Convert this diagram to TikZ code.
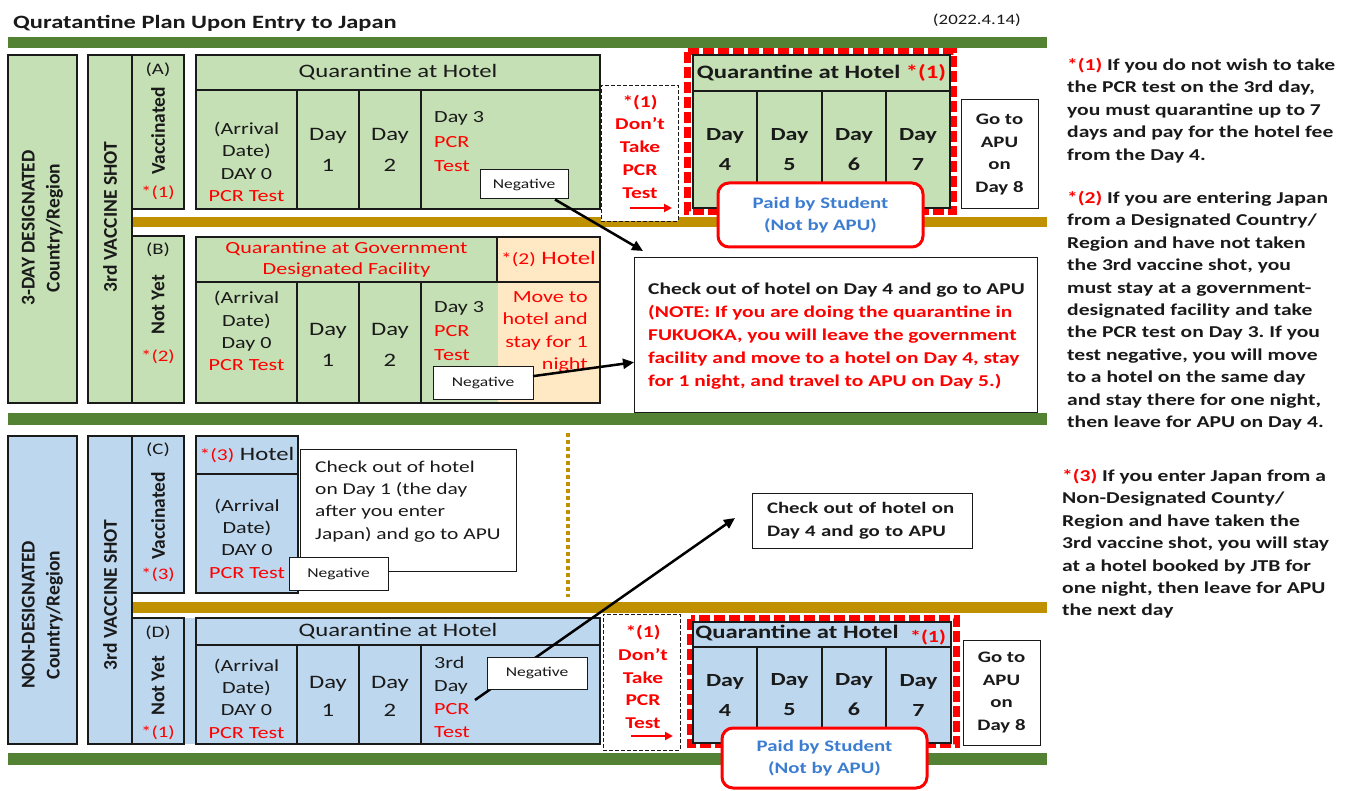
\documentclass[tikz,border=0pt]{standalone}
\usepackage{fontspec}
\setmainfont[FakeStretch=1.3]{Carlito}
\newfontfamily\plainfont{Carlito}
\usetikzlibrary{arrows.meta}
\definecolor{gfill}{HTML}{C5E0B4}
\definecolor{bfill}{HTML}{BDD7EE}
\definecolor{ofill}{HTML}{FFE8C4}
\definecolor{greenbar}{HTML}{548235}
\definecolor{goldbar}{HTML}{BF9000}
\definecolor{redx}{HTML}{FF0000}
\definecolor{bluex}{HTML}{3C7DD0}
\definecolor{ink}{HTML}{1A1A1A}
\newcommand\fs[2]{\fontsize{#1}{#2}\selectfont}
\newcommand\rd[1]{\textcolor{redx}{#1}}
\newcommand\rbox[7][]{\node[#1, minimum width={#5-#3}, minimum height={#6-#4}, inner sep=0pt, outer sep=0pt] (#2) at ({(#3+#5)/2},{(#4+#6)/2}) {#7};}
\frenchspacing
\tikzset{
 colg/.style={draw=ink, line width=1.2pt, fill=gfill},
 colb/.style={draw=ink, line width=1.2pt, fill=bfill},
 cellg/.style={draw=ink, line width=1.5pt, fill=gfill, align=center, text=ink},
 cellb/.style={draw=ink, line width=1.5pt, fill=bfill, align=center, text=ink},
 cello/.style={draw=ink, line width=1.5pt, fill=ofill, align=center},
 cellr/.style={draw=ink, line width=1.8pt, fill=gfill, align=center, text=ink, font=\bfseries\fs{18.5}{30}},
 cellrb/.style={draw=ink, line width=1.8pt, fill=bfill, align=center, text=ink, font=\bfseries\fs{18.5}{30}},
 tag/.style={draw=ink, line width=1pt, fill=white, font=\fs{13.5}{16}, text=ink},
 plain/.style={draw=ink, line width=1pt, fill=white, text=ink},
 gobox/.style={draw=ink, line width=1pt, fill=white, text=ink, align=center, font=\bfseries\fs{16}{22.5}},
 dbox/.style={draw=ink, line width=0.9pt, dash pattern=on 4pt off 2pt, fill=white},
 rframe/.style={draw=redx, line width=7pt, dash pattern=on 11pt off 4pt},
 paid/.style={draw=redx, line width=3pt, fill=white, rounded corners=11pt, align=center, text=bluex, font=\bfseries\fs{16}{22}},
 rot/.style={rotate=90, align=center, inner sep=0pt, text=ink, font=\plainfont\bfseries\fs{19.5}{25}},
 lab/.style={inner sep=0pt, text=ink, font=\fs{16}{20}},
 arrt/.style={align=center, inner sep=0pt, text=ink, font=\fs{17}{22.3}},
 dayt/.style={align=center, inner sep=0pt, text=ink, font=\fs{19}{31}},
 d3t/.style={anchor=west, align=left, inner sep=0pt, text=ink, font=\fs{17}{24.5}},
 dont/.style={align=center, inner sep=0pt, text=redx, font=\bfseries\fs{16.5}{22.75}},
 note/.style={anchor=north west, align=left, inner sep=0pt, text=ink, font=\bfseries\fs{16.6}{22.4}},
 arr/.style={draw=black, line width=2.5pt, -{Triangle[length=11pt,width=10pt]}},
 rarr/.style={draw=redx, line width=2.5pt, -{Triangle[length=8pt,width=8pt]}},
}
\begin{document}
\begin{tikzpicture}[x=1pt,y=-1pt]
\useasboundingbox (0,0) rectangle (1349,791);
\fill[white] (0,0) rectangle (1349,791);
% title
\node[anchor=west, inner sep=0pt, text=ink, font=\bfseries\fs{18.8}{22}] (title) at (13,23) {Quratantine Plan Upon Entry to Japan};
\node[anchor=east, inner sep=0pt, text=ink, font=\fs{14.5}{17}] (date) at (1021,20) {(2022.4.14)};
% bars
\fill[greenbar] (8,37) rectangle (1047,48);
\fill[goldbar] (132,217) rectangle (1047,227);
\fill[greenbar] (8,413) rectangle (1047,425);
\fill[goldbar] (132,602) rectangle (1047,613);
\fill[greenbar] (8,753) rectangle (1047,765);
% ===== Section 1 =====
\rbox[colg]{sA1}{8}{55}{77}{403}{}
\node[rot] (sA1t) at (42.5,228) {3-DAY DESIGNATED\\Country/Region};
\rbox[colg]{sA2}{88}{55}{132}{403}{}
\node[rot] (sA2t) at (110,217) {3rd VACCINE SHOT};
\rbox[colg]{rA}{132}{55}{184}{209}{}
\node[lab] (rAa) at (158,70) {(A)};
\node[rot] (rAv) at (158,131) {Vaccinated};
\node[lab, text=redx] (rAn) at (158,193) {*(1)};
\rbox[colg]{rB}{132}{236}{184}{403}{}
\node[lab] (rBa) at (158,250) {(B)};
\node[rot] (rBv) at (158,305) {Not Yet};
\node[lab, text=redx] (rBn) at (158,357) {*(2)};
% Row A table
\rbox[cellg, font=\fs{19}{23}]{aH}{196}{55}{600}{90}{Quarantine at Hotel}
\rbox[cellg]{a0}{196}{90}{297}{209}{}
\rbox[cellg]{a1}{297}{90}{359}{209}{}
\rbox[cellg]{a2}{359}{90}{421}{209}{}
\rbox[cellg]{a3}{421}{90}{600}{209}{}
\node[arrt] (a0t) at (246.5,162) {(Arrival\\Date)\\DAY 0\\\rd{PCR Test}};
\node[dayt] (a1t) at (328,150) {Day\\1};
\node[dayt] (a2t) at (390,150) {Day\\2};
\node[d3t] (a3t) at (434,142) {Day 3\\\rd{PCR}\\\rd{Test}};
% dashed box A
\rbox[dbox]{xA}{601}{85}{678}{221}{}
\node[dont] (xAt) at (640,146.5) {*(1)\\Don't\\Take\\PCR\\Test};
\coordinate (xAa1) at (630,208);
\coordinate (xAa2) at (672,208);
\draw[rarr] (xAa1) -- (xAa2);
% red frame A
\draw[rframe] (687,52) rectangle (953.5,211.5);
\rbox[cellr, font=\bfseries\fs{19}{23}]{fAH}{693}{55}{950}{91}{Quarantine at Hotel \rd{*(1)}}
\rbox[cellr]{fA4}{693}{91}{757}{208}{Day\\4}
\rbox[cellr]{fA5}{757}{91}{822}{208}{Day\\5}
\rbox[cellr]{fA6}{822}{91}{886}{208}{Day\\6}
\rbox[cellr]{fA7}{886}{91}{950}{208}{Day\\7}
\rbox[paid]{pA}{718}{183}{923}{247}{Paid by Student\\(Not by APU)}
\rbox[gobox]{gA}{961}{100}{1038}{209}{Go to\\APU\\on\\Day 8}
% Row B table
\rbox[cellg, font=\fs{17}{20.5}, text=redx]{bH}{196}{237}{497}{282}{Quarantine at Government\\Designated Facility}
\rbox[cello, font=\fs{19}{23}, text=redx]{bH2}{497}{237}{600}{282}{{\fs{16.5}{20}*(2)} Hotel}
\rbox[cellg]{b0}{196}{282}{297}{403}{}
\rbox[cellg]{b1}{297}{282}{359}{403}{}
\rbox[cellg]{b2}{359}{282}{421}{403}{}
\rbox[cellg]{b3}{421}{282}{600}{403}{}
\fill[ofill] (497.5,282.8) rectangle (599.2,402.2);
\node[arrt] (b0t) at (246.5,331) {(Arrival\\Date)\\Day 0\\\rd{PCR Test}};
\node[dayt] (b1t) at (328,344.5) {Day\\1};
\node[dayt] (b2t) at (390,344.5) {Day\\2};
\node[d3t, font=\fs{17}{24}] (b3t) at (434,331) {Day 3\\\rd{PCR}\\\rd{Test}};
\node[anchor=east, align=right, inner sep=0pt, text=redx, font=\fs{17}{22.3}] (b4t) at (588,332) {Move to\\hotel and\\stay for 1\\night};
% check out B
\rbox[plain]{cB}{634}{258}{1037}{412}{}
\node[anchor=west, align=left, inner sep=0pt, text=ink, font=\bfseries\fs{16.5}{23}] (cBt) at (648,336.5) {Check out of hotel on Day 4 and go to APU\\\rd{(NOTE: If you are doing the quarantine in}\\\rd{FUKUOKA, you will leave the government}\\\rd{facility and move to a hotel on Day 4, stay}\\\rd{for 1 night, and travel to APU on Day 5.)}};
% negatives and arrows section 1
\rbox[tag]{nA}{480}{170}{568}{199}{Negative}
\rbox[tag]{nB}{433}{367}{533}{399}{Negative}
\coordinate (aS) at (555,199.5);
\coordinate (aE) at (643,251);
\draw[arr] (aS) -- (aE);
\draw[arr] (nB) -- (cB);
% ===== Section 2 =====
\rbox[colb]{sC1}{8}{436}{77}{744}{}
\node[rot] (sC1t) at (42.5,615) {NON-DESIGNATED\\Country/Region};
\rbox[colb]{sC2}{88}{436}{132}{744}{}
\node[rot] (sC2t) at (110,595) {3rd VACCINE SHOT};
\rbox[colb]{rC}{132}{436}{184}{593}{}
\node[lab] (rCa) at (158,450) {(C)};
\node[rot] (rCv) at (158,516) {Vaccinated};
\node[lab, text=redx] (rCn) at (158,575) {*(3)};
\fill[bfill] (184.6,618) rectangle (196,744);
\rbox[colb]{rD}{132}{618}{184}{744}{}
\node[lab] (rDa) at (158,633) {(D)};
\node[rot] (rDv) at (158,686) {Not Yet};
\node[lab, text=redx] (rDn) at (158,733) {*(1)};
% Row C
\rbox[cellb, font=\fs{19}{23}]{cH}{196}{436}{298}{474}{\rd{\fs{16.5}{20}*(3)} Hotel}
\rbox[cellb]{c0}{196}{474}{298}{593}{}
\node[arrt] (c0t) at (247,538.5) {(Arrival\\Date)\\DAY 0\\\rd{PCR Test}};
\rbox[plain]{cC}{300}{449}{516}{571}{}
\node[anchor=west, align=left, inner sep=0pt, text=ink, font=\fs{16.5}{22.3}] (cCt) at (315,501.5) {Check out of hotel\\on Day 1 (the day\\after you enter\\Japan) and go to APU};
\rbox[tag]{nC}{289}{557}{388}{590}{Negative}
\coordinate (dotT) at (568,433);
\coordinate (dotB) at (568,597);
\draw[goldbar, line width=3.5pt, dash pattern=on 3.5pt off 3.5pt] (dotT) -- (dotB);
\rbox[plain, text width=190pt, align=left, font=\bfseries\fs{16}{23}]{cD}{752}{493}{972}{548}{Check out of hotel on\\Day 4 and go to APU}
% Row D
\rbox[cellb, font=\fs{19}{23}]{dH}{196}{618}{600}{645}{Quarantine at Hotel}
\rbox[cellb]{d0}{196}{645}{297}{744}{}
\rbox[cellb]{d1}{297}{645}{359}{744}{}
\rbox[cellb]{d2}{359}{645}{421}{744}{}
\rbox[cellb]{d3}{421}{645}{600}{744}{}
\node[arrt] (d0t) at (246.5,698.5) {(Arrival\\Date)\\DAY 0\\\rd{PCR Test}};
\node[dayt, font=\fs{19}{28}] (d1t) at (328,696) {Day\\1};
\node[dayt, font=\fs{19}{28}] (d2t) at (390,696) {Day\\2};
\node[d3t, font=\fs{17}{23}] (d3t) at (434,697.5) {3rd\\Day\\\rd{PCR}\\\rd{Test}};
\coordinate (dS) at (475,700);
\coordinate (dE) at (735,518);
\draw[arr] (dS) -- (dE);
\rbox[tag]{nD}{487}{657}{587}{689}{Negative}
% dashed box D
\rbox[dbox]{xD}{603}{614}{680}{750}{}
\node[dont] (xDt) at (643,677) {*(1)\\Don't\\Take\\PCR\\Test};
\coordinate (xDa1) at (631,736);
\coordinate (xDa2) at (673,736);
\draw[rarr] (xDa1) -- (xDa2);
% red frame D
\draw[rframe] (690.5,618.5) rectangle (956.5,744.5);
\rbox[cellrb]{fDH}{693}{622}{951}{647}{}
\node[inner sep=0pt, text=ink, font=\bfseries\fs{19}{23}] (fDHt) at (797,633) {Quarantine at Hotel};
\node[inner sep=0pt, text=redx, font=\bfseries\fs{17}{20}] (fDHs) at (928,637) {*(1)};
\rbox[cellrb]{fD4}{693}{647}{757}{743}{Day\\4}
\rbox[cellrb]{fD5}{757}{647}{822}{743}{Day\\5}
\rbox[cellrb]{fD6}{822}{647}{886}{743}{Day\\6}
\rbox[cellrb]{fD7}{886}{647}{951}{743}{Day\\7}
\rbox[paid]{pD}{722}{728}{927}{788}{Paid by Student\\(Not by APU)}
\rbox[gobox]{gD}{963}{640}{1040}{745}{Go to\\APU\\on\\Day 8}
% notes
\node[note] (n1) at (1067,58) {\rd{*(1)} If you do not wish to take\\the PCR test on the 3rd day,\\you must quarantine up to 7\\days and pay for the hotel fee\\from the Day 4.};
\node[note] (n2) at (1067,191) {\rd{*(2)} If you are entering Japan\\from a Designated Country/\\Region and have not taken\\the 3rd vaccine shot, you\\must stay at a government-\\designated facility and take\\the PCR test on Day 3. If you\\test negative, you will move\\to a hotel on the same day\\and stay there for one night,\\then leave for APU on Day 4.};
\node[note] (n3) at (1062,469) {\rd{*(3)} If you enter Japan from a\\Non-Designated County/\\Region and have taken the\\3rd vaccine shot, you will stay\\at a hotel booked by JTB for\\one night, then leave for APU\\the next day};
\end{tikzpicture}
\end{document}
